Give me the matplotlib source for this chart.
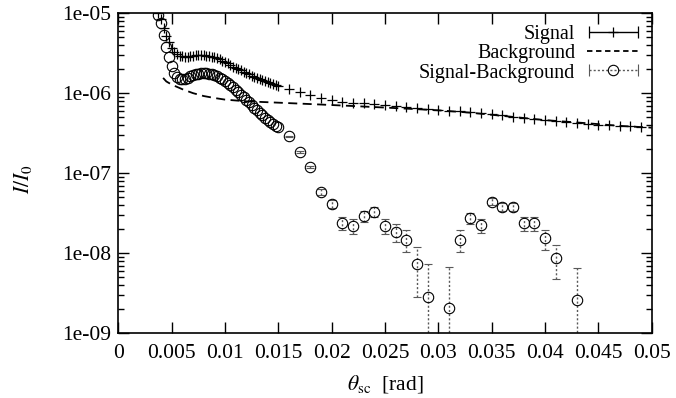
import numpy as np
import matplotlib.pyplot as plt
from matplotlib.ticker import LogLocator, FuncFormatter, MultipleLocator, NullFormatter, NullLocator
from matplotlib.legend_handler import HandlerErrorbar

plt.rcParams['font.family'] = ['Liberation Serif', 'DejaVu Serif']
plt.rcParams['mathtext.fontset'] = 'stix'

# Signal, dense part (rad, I/I0)
sig_theta_dense = [0.00375, 0.004, 0.00425, 0.0045, 0.00475, 0.005, 0.00525, 0.0055,
                   0.00575, 0.006, 0.00625, 0.0065, 0.00675, 0.007, 0.00725, 0.0075,
                   0.00775, 0.008, 0.00825, 0.0085, 0.00875, 0.009, 0.00925, 0.0095,
                   0.00975, 0.01, 0.01025, 0.0105, 0.01075, 0.011, 0.01125, 0.0115,
                   0.01175, 0.012, 0.01225, 0.0125, 0.01275, 0.013, 0.01325, 0.0135,
                   0.01375, 0.014, 0.01425, 0.0145, 0.01475, 0.015]
sig_dense = [1.0e-5, 8.5e-6, 6.5e-6, 5.2e-6, 4.3e-6, 3.7e-6, 3.3e-6, 3.1e-6,
             2.95e-6, 2.9e-6, 2.85e-6, 2.85e-6, 2.9e-6, 2.95e-6, 3.0e-6, 3.0e-6,
             3.0e-6, 2.98e-6, 2.95e-6, 2.9e-6, 2.85e-6, 2.8e-6, 2.72e-6, 2.65e-6,
             2.55e-6, 2.45e-6, 2.35e-6, 2.25e-6, 2.15e-6, 2.07e-6, 1.99e-6, 1.92e-6,
             1.85e-6, 1.78e-6, 1.72e-6, 1.66e-6, 1.6e-6, 1.55e-6, 1.5e-6, 1.45e-6,
             1.4e-6, 1.36e-6, 1.32e-6, 1.29e-6, 1.26e-6, 1.23e-6]

# Signal, sparse part
sig_theta_sparse = [0.016, 0.017, 0.018, 0.019, 0.02, 0.021, 0.022, 0.023, 0.024,
                    0.025, 0.026, 0.027, 0.028, 0.029, 0.03, 0.031, 0.032, 0.033,
                    0.034, 0.035, 0.036, 0.037, 0.038, 0.039, 0.04, 0.041, 0.042,
                    0.043, 0.044, 0.045, 0.046, 0.047, 0.048, 0.049]
sig_sparse = [1.13e-6, 1.03e-6, 9.4e-7, 8.6e-7, 8.1e-7, 7.8e-7, 7.6e-7, 7.5e-7, 7.4e-7,
              7.2e-7, 7.0e-7, 6.8e-7, 6.6e-7, 6.4e-7, 6.2e-7, 6.0e-7, 5.9e-7, 5.8e-7,
              5.6e-7, 5.5e-7, 5.3e-7, 5.1e-7, 4.9e-7, 4.75e-7, 4.6e-7, 4.45e-7, 4.35e-7,
              4.25e-7, 4.15e-7, 4.05e-7, 3.95e-7, 3.9e-7, 3.85e-7, 3.8e-7]

# Background fit
bg_theta = [0.0042, 0.0045, 0.005, 0.006, 0.007, 0.008, 0.009, 0.01, 0.012, 0.014,
            0.016, 0.018, 0.02, 0.022, 0.025, 0.028, 0.03, 0.033, 0.036, 0.04,
            0.044, 0.047, 0.05]
bg = [1.55e-6, 1.4e-6, 1.28e-6, 1.12e-6, 1.0e-6, 9.2e-7, 8.7e-7, 8.3e-7, 7.9e-7, 7.7e-7,
      7.5e-7, 7.3e-7, 7.1e-7, 6.9e-7, 6.6e-7, 6.3e-7, 6.1e-7, 5.7e-7, 5.2e-7, 4.6e-7,
      4.2e-7, 3.9e-7, 3.7e-7]

# Signal - Background
sub_dense = [9.5e-6, 7.5e-6, 5.3e-6, 3.8e-6, 2.8e-6, 2.2e-6, 1.8e-6, 1.6e-6,
             1.5e-6, 1.5e-6, 1.52e-6, 1.56e-6, 1.62e-6, 1.68e-6, 1.72e-6, 1.75e-6,
             1.77e-6, 1.78e-6, 1.77e-6, 1.75e-6, 1.72e-6, 1.68e-6, 1.62e-6, 1.56e-6,
             1.49e-6, 1.42e-6, 1.34e-6, 1.26e-6, 1.18e-6, 1.1e-6, 1.03e-6, 9.6e-7,
             8.9e-7, 8.3e-7, 7.7e-7, 7.1e-7, 6.6e-7, 6.1e-7, 5.7e-7, 5.3e-7,
             4.9e-7, 4.6e-7, 4.35e-7, 4.1e-7, 3.9e-7, 3.75e-7]
sub_theta_sparse = [0.016, 0.017, 0.018, 0.019, 0.02, 0.021, 0.022, 0.023, 0.024,
                    0.025, 0.026, 0.027, 0.028, 0.029, 0.031, 0.032, 0.033, 0.034,
                    0.035, 0.036, 0.037, 0.038, 0.039, 0.04, 0.041, 0.043]
sub_sparse = [2.9e-7, 1.85e-7, 1.2e-7, 5.8e-8, 4.1e-8, 2.4e-8, 2.2e-8, 2.9e-8, 3.3e-8,
              2.2e-8, 1.84e-8, 1.47e-8, 7.3e-9, 2.8e-9, 2.07e-9, 1.47e-8, 2.76e-8, 2.24e-8,
              4.4e-8, 3.8e-8, 3.8e-8, 2.35e-8, 2.35e-8, 1.53e-8, 8.8e-9, 2.6e-9]
sub_err = [4e-9, 4e-9, 4e-9, 4.5e-9, 4.5e-9, 4.5e-9, 4.5e-9, 4.5e-9, 4.5e-9,
           4.5e-9, 4.5e-9, 4.5e-9, 4.5e-9, 4.6e-9, 4.6e-9, 4.5e-9, 4.5e-9, 4.5e-9,
           4.5e-9, 4.5e-9, 4.5e-9, 4.5e-9, 4.5e-9, 4.2e-9, 4e-9, 4e-9]

labels = ['Signal', 'Background', 'Signal-Background']

fig, ax = plt.subplots(figsize=(6.76, 3.98), dpi=100)
fig.subplots_adjust(left=0.175, right=0.964, top=0.967, bottom=0.163)

ax.plot(sig_theta_dense + sig_theta_sparse, sig_dense + sig_sparse, ls='none',
        marker='+', ms=7.5, mew=0.9, color='k')
ax.plot(bg_theta, bg, color='k', lw=1.3, dashes=(5, 3))
ax.plot(sig_theta_dense, sub_dense, ls='none', marker='o', ms=7.5, mfc='none',
        mec='k', mew=0.8)

y = np.array(sub_sparse)
e = np.array(sub_err)
lo = np.minimum(e, y * 0.9999)
eb = ax.errorbar(sub_theta_sparse, y, yerr=[lo, e], fmt='o', ms=7.5, mfc='none',
                 mec='k', mew=0.8, ecolor='0.35', elinewidth=1.0, capsize=3, capthick=0.7)
eb[2][0].set_linestyle((0, (1.5, 1.5)))

# legend proxies (gnuplot style sample with horizontal bars)
h_sig = ax.errorbar([np.nan], [np.nan], xerr=[[1]], fmt='+', color='k', ms=7.5, mew=0.9,
                    elinewidth=1.0, capsize=4)
h_bg, = ax.plot([], [], color='k', lw=1.3, dashes=(3, 2))
h_sub = ax.errorbar([np.nan], [np.nan], xerr=[[1]], fmt='o', ms=7.5, mfc='none', mec='k',
                    mew=0.8, ecolor='0.35', elinewidth=1.0, capsize=4)
h_sub[2][0].set_linestyle((0, (1.5, 1.5)))
ax.legend([h_sig, h_bg, h_sub], labels, loc='upper right', markerfirst=False,
          frameon=False, fontsize=14.5, labelspacing=0.0, handlelength=2.6,
          handletextpad=0.6, borderaxespad=0.2,
          handler_map={type(h_sig): HandlerErrorbar(xerr_size=1.2)})

ax.set_yscale('log')
ax.set_xlim(0, 0.05)
ax.set_ylim(1e-9, 1e-5)
ax.xaxis.set_major_locator(MultipleLocator(0.005))
ax.xaxis.set_minor_locator(NullLocator())
ax.xaxis.set_major_formatter(FuncFormatter(lambda v, p: '%g' % round(v, 4)))
ax.yaxis.set_major_locator(LogLocator(base=10, numticks=10))
ax.yaxis.set_minor_locator(LogLocator(base=10, subs=np.arange(2, 10), numticks=10))
ax.yaxis.set_minor_formatter(NullFormatter())
ax.yaxis.set_major_formatter(FuncFormatter(lambda v, p: '%.0e' % v))

ax.tick_params(which='both', direction='in', top=True, right=True, labelsize=15.5,
               width=1.0)
ax.tick_params(which='major', length=8)
ax.tick_params(which='minor', length=4)
ax.tick_params(axis='x', which='major', pad=8)
ax.tick_params(axis='y', which='major', pad=5)
for s in ax.spines.values():
    s.set_linewidth(1.2)

ax.set_xlabel(r'$\theta_{\rm sc}$  [rad]', fontsize=15.5)
ax.set_ylabel(r'$I/I_0$', fontsize=15.5)
ax.xaxis.set_label_coords(0.5, -0.125)
ax.yaxis.set_label_coords(-0.158, 0.48)

plt.savefig('out.png', dpi=100)
